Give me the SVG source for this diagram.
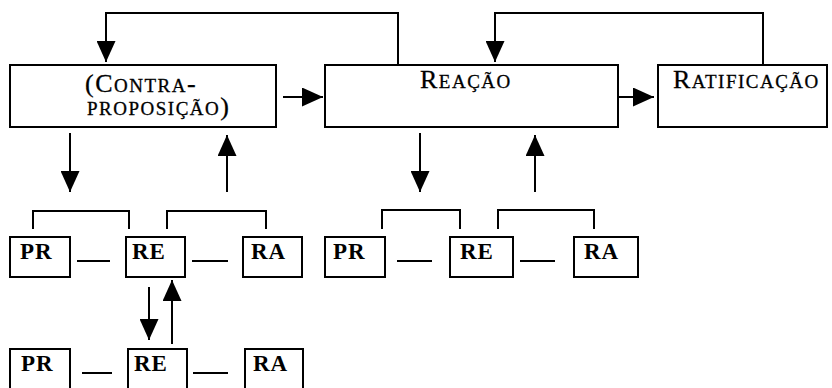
<svg xmlns="http://www.w3.org/2000/svg" width="832" height="388" viewBox="0 0 832 388">
<style>
.box{fill:#fff;stroke:#000;stroke-width:2}
.ln{fill:none;stroke:#000;stroke-width:2}
.t{font-family:"Liberation Serif",serif;font-size:26px;letter-spacing:1.5px;fill:#000;stroke:#000;stroke-width:0.3}
.t tspan.k{font-size:19px}
.s{font-family:"Liberation Serif",serif;font-size:23px;font-weight:bold;letter-spacing:1px;fill:#000}
</style>
<defs>
<marker id="ahb" viewBox="0 0 10 10" refX="10" refY="5" markerWidth="21" markerHeight="19" markerUnits="userSpaceOnUse" orient="auto" preserveAspectRatio="none">
<path d="M0,0 L10,5 L0,10 Z" fill="#000"/>
</marker>
</defs>
<rect width="832" height="388" fill="#fff"/>
<g id="contraproposicao">
<rect class="box" x="10" y="65" width="266" height="62"/>
<text class="t" x="85" y="92">(C<tspan class="k">ONTRA</tspan>-</text>
<text class="t" x="87" y="115"><tspan class="k">PROPOSIÇÃO</tspan>)</text>
</g>
<g id="reacao">
<rect class="box" x="325" y="65" width="293" height="62"/>
<text class="t" x="420" y="88">R<tspan class="k">EAÇÃO</tspan></text>
</g>
<g id="ratificacao">
<rect class="box" x="658" y="65" width="169" height="62"/>
<text class="t" x="673" y="88">R<tspan class="k">ATIFICAÇÃO</tspan></text>
</g>
<g id="pr1"><rect class="box" x="10" y="237" width="60" height="40"/><text class="s" x="20" y="259">PR</text></g>
<g id="re1"><rect class="box" x="126" y="237" width="59" height="40"/><text class="s" x="132" y="259">RE</text></g>
<g id="ra1"><rect class="box" x="243" y="237" width="59" height="40"/><text class="s" x="251" y="259">RA</text></g>
<g id="pr2"><rect class="box" x="325" y="237" width="60" height="40"/><text class="s" x="333" y="259">PR</text></g>
<g id="re2"><rect class="box" x="450" y="237" width="63" height="40"/><text class="s" x="460" y="259">RE</text></g>
<g id="ra2"><rect class="box" x="574" y="237" width="64" height="40"/><text class="s" x="584" y="259">RA</text></g>
<g id="pr3"><rect class="box" x="10" y="349" width="60" height="45"/><text class="s" x="21" y="371">PR</text></g>
<g id="re3"><rect class="box" x="128" y="349" width="59" height="45"/><text class="s" x="134" y="371">RE</text></g>
<g id="ra3"><rect class="box" x="245" y="349" width="58" height="45"/><text class="s" x="253" y="371">RA</text></g>
<g id="connectors">
<path class="ln" d="M398,65 V13 H106 V62" marker-end="url(#ahb)"/>
<path class="ln" d="M763,65 V13 H495 V62" marker-end="url(#ahb)"/>
<path class="ln" d="M283,97 H323" marker-end="url(#ahb)"/>
<path class="ln" d="M618,97 H654" marker-end="url(#ahb)"/>
<path class="ln" d="M70,133 V192" marker-end="url(#ahb)"/>
<path class="ln" d="M227,192 V135" marker-end="url(#ahb)"/>
<path class="ln" d="M420,133 V192" marker-end="url(#ahb)"/>
<path class="ln" d="M535,192 V135" marker-end="url(#ahb)"/>
<path class="ln" d="M149,287 V340" marker-end="url(#ahb)"/>
<path class="ln" d="M172,344 V280" marker-end="url(#ahb)"/>
<path class="ln" d="M33,229 V211 H129 V229"/>
<path class="ln" d="M167,229 V211 H266 V229"/>
<path class="ln" d="M382,229 V210 H460 V229"/>
<path class="ln" d="M498,229 V210 H594 V229"/>
<path class="ln" d="M77,261 H110 M192,261 H228 M397,261 H432 M520,261 H555"/>
<path class="ln" d="M82,373 H112 M193,373 H228"/>
</g>
</svg>
